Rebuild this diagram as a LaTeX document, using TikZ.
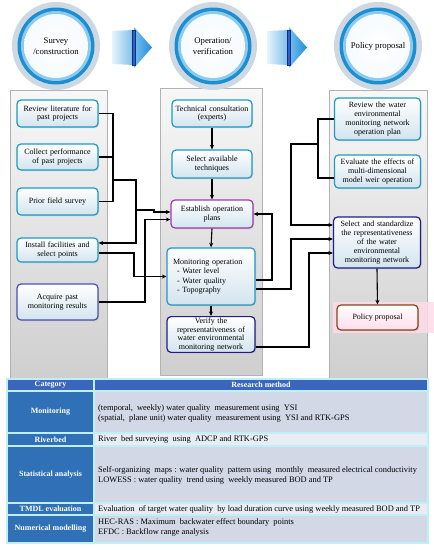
\documentclass[tikz,border=0pt]{standalone}
\usepackage{fontspec}
\setmainfont{Liberation Serif}
\usetikzlibrary{shadows,calc,arrows.meta}
\definecolor{boxcyan}{HTML}{1C9CC4}
\definecolor{boxfill}{HTML}{D3E4EE}
\definecolor{boxpurple}{HTML}{9B3BA8}
\definecolor{boxnavy}{HTML}{1E1E86}
\definecolor{boxindigo}{HTML}{4B4FB5}
\definecolor{boxbrown}{HTML}{8A4216}
\definecolor{halo}{HTML}{CDD8E3}
\definecolor{ringblue}{HTML}{1B8FD2}
\definecolor{ringlight}{HTML}{8CCBEE}
\definecolor{arrblue}{HTML}{1E8FDC}
\definecolor{arrlight}{HTML}{E6F4FC}
\definecolor{bardark}{HTML}{0D2F86}
\definecolor{barblue}{HTML}{2F62C4}
\definecolor{tabbg}{HTML}{BFEFF7}
\definecolor{hdr}{HTML}{3B66BE}
\definecolor{catblue}{HTML}{2F70B6}
\definecolor{celldark}{HTML}{D2D8E6}
\definecolor{celllight}{HTML}{E9ECF3}
\definecolor{glowpink}{HTML}{FFDCEA}
\tikzset{
  panel/.style={draw=gray!60, line width=0.4pt, top color=gray!6, bottom color=gray!38},
  box/.style={draw=boxcyan, line width=1.2pt, rounded corners=4pt, top color=white, bottom color=boxfill,
    align=center, font=\fontsize{8}{8.8}\selectfont, inner sep=1pt,
    drop shadow={opacity=0.25, shadow xshift=1pt, shadow yshift=-1pt}},
  lbox/.style={box, minimum width=81pt, text width=79pt},
  mbox/.style={box, minimum width=80pt, text width=78pt},
  rbox/.style={box, minimum width=85pt, text width=84pt},
  conn/.style={line width=1.1pt, black},
  arr/.style={conn, -{Stealth[length=4.5pt,width=4pt]}},
  ctext/.style={align=center, font=\fontsize{8.7}{10.5}\selectfont},
  hdrtxt/.style={font=\fontsize{8}{9}\selectfont\bfseries, text=white, inner sep=0pt},
  cattxt/.style={font=\fontsize{8}{9}\selectfont\bfseries, text=white, inner sep=0pt, align=center},
  celltxt/.style={font=\fontsize{8.4}{10}\selectfont, anchor=west, align=left, inner sep=0pt}
}
\begin{document}
\begin{tikzpicture}[x=1pt,y=-1pt]
\useasboundingbox (0,0) rectangle (434,550);

% panels
\draw[panel] (10,90) rectangle (107,378);
\draw[panel] (160,88) rectangle (262,375);
\draw[panel] (329,90) rectangle (427,378);

% circles
\foreach \cx in {56,213,378}{
  \fill[halo] (\cx,46) circle (44pt);
  \fill[ringblue] (\cx,46) circle (38.5pt);
  \fill[ringlight] (\cx,46) circle (35pt);
  \shade[inner color=white, outer color=white!92!ringlight] (\cx,46) circle (32pt);
}
\node[ctext] (C1) at (56,46) {Survey\\/construction};
\node[ctext] (C2) at (213,46) {Operation/\\verification};
\node[ctext] (C3) at (378,46) {Policy proposal};

% block arrows
\foreach \dx in {0,155}{
  \begin{scope}[xshift=\dx pt]
  \shade[left color=arrlight, right color=arrblue] (112,31) -- (134,30) -- (134,27) -- (152,47.5) -- (134,68) -- (134,65) -- (112,64) -- cycle;
  \filldraw[fill=barblue, draw=bardark, line width=0.6pt] (132.5,30.5) rectangle (135.5,65);
  \end{scope}
}

% pink glow behind policy proposal
\fill[glowpink, opacity=0.85] (333,302) rectangle (434,333);

% left column
\node[lbox, minimum height=27pt] (L1) at (57.5,113.5) {Review literature for\\past projects};
\node[lbox, minimum height=26pt] (L2) at (57.5,157) {Collect performance\\of past projects};
\node[lbox, minimum height=27pt] (L3) at (57.5,201.5) {Prior field survey};
\node[lbox, minimum height=24pt] (L4) at (57.5,250) {Install facilities and\\select points};
\node[lbox, draw=boxindigo, minimum height=36pt] (L5) at (57.5,302) {Acquire past\\monitoring results};

% middle column
\node[mbox, minimum height=27pt] (M1) at (212,113.5) {Technical consultation\\(experts)};
\node[mbox, minimum height=28pt] (M2) at (212,164) {Select available\\techniques};
\node[mbox, draw=boxpurple, minimum width=82pt, minimum height=28pt] (M3) at (212,214) {Establish operation\\plans};
\node[box, minimum width=88pt, text width=80pt, minimum height=57pt, align=left, font=\fontsize{8}{9.5}\selectfont] (M4) at (211,276.5)
  {\hspace*{2pt}Monitoring operation\\\hspace*{6pt}- Water level\\\hspace*{6pt}- Water quality\\\hspace*{6pt}- Topography};
\node[box, draw=boxnavy, minimum width=88pt, text width=86pt, minimum height=35pt] (M5) at (211,334.5)
  {Verify the\\representativeness of\\water environmental\\monitoring network};

% right column
\node[rbox, minimum height=42pt] (R1) at (377.5,119) {Review the water\\environmental\\monitoring network\\operation plan};
\node[rbox, minimum height=33pt] (R2) at (377.5,171.5) {Evaluate the effects of\\multi-dimensional\\model weir operation};
\node[rbox, draw=boxnavy, minimum width=87pt, minimum height=51pt] (R3) at (377,242.5)
  {Select and standardize\\the representativeness\\of the water\\environmental\\monitoring network};
\node[box, draw=boxbrown, top color=white, bottom color=glowpink, minimum width=81pt, minimum height=25pt] (R4) at (377.5,317.5) {Policy proposal};

% left connectors
\coordinate (b1) at (113,113.5);
\coordinate (b3) at (113,201.5);
\draw[conn] (L1.east) -- (b1) -- (b3) -- (L3.east);
\draw[conn] (L2.east) -- (L2.east -| b1);
\coordinate (b2) at (113,180);
\coordinate (c1) at (136,180);
\coordinate (c2) at (136,210);
\coordinate (c3) at (154,210);
\draw[arr] (b2) -- (c1) -- (c2) -- (c3) |- ($(M3.west)+(0,-2)$);
\draw[arr] (c2) |- ($(L4.east)+(0,-7)$);
\coordinate (d1) at (134,276.5);
\draw[arr] ($(L4.east)+(0,3)$) -| (d1) -- (M4.west);
\coordinate (e1) at (145,219.5);
\draw[arr] (L5.east) -| (e1) -- ($(M3.west)+(0,5.5)$);

% middle column arrows
\draw[arr] (M1.south) -- (M2.north);
\draw[arr] (M2.south) -- (M3.north);
\draw[arr] (M3.south) -- (M4.north);
\draw[arr] (M4.south) -- (M5.north);

% middle to right connectors
\coordinate (f1) at (272,214);
\draw[arr] ($(M4.east)+(0,3.5)$) -| (f1) -- (M3.east);
\coordinate (f2) at (291,239);
\draw[arr] ($(M4.east)+(0,12.5)$) -| (f2) -- ($(R3.west)+(0,-3.5)$);
\coordinate (f3) at (309,253);
\draw[arr] ($(M5.east)+(0,12.5)$) -| (f3) -- ($(R3.west)+(0,10.5)$);

% right connectors
\coordinate (g1) at (318,119);
\coordinate (g2) at (318,178);
\draw[conn] (R1.west) -- (g1) -- (g2) -- ($(R2.west)+(0,6.5)$);
\coordinate (g3) at (318,144);
\coordinate (g4) at (291,144);
\coordinate (g5) at (291,225);
\draw[arr] (g3) -- (g4) -- (g5) -- ($(R3.west)+(0,-17.5)$);
\draw[arr] (R3.south) -- (R4.north);

% table
\fill[tabbg] (6,377.5) rectangle (429,544);
\fill[hdr] (8,379.5) rectangle (93,390);
\fill[hdr] (95,379.5) rectangle (427,390);
\node[hdrtxt] (h1) at (50.5,385) {Category};
\node[hdrtxt] (h2) at (261,385) {Research method};

\fill[catblue] (8,392) rectangle (93,432);
\fill[celldark] (95,392) rectangle (427,432);
\fill[catblue] (8,434) rectangle (93,445);
\fill[celllight] (95,434) rectangle (427,445);
\fill[catblue] (8,447) rectangle (93,502);
\fill[celldark] (95,447) rectangle (427,502);
\fill[catblue] (8,504) rectangle (93,514);
\fill[celllight] (95,504) rectangle (427,514);
\fill[catblue] (8,516) rectangle (93,542);
\fill[celldark] (95,516) rectangle (427,542);

\node[cattxt] (k1) at (50.5,412) {Monitoring};
\node[cattxt] (k2) at (50.5,439.5) {Riverbed};
\node[cattxt] (k3) at (50.5,474.5) {Statistical analysis};
\node[cattxt] (k4) at (50.5,509) {TMDL evaluation};
\node[cattxt] (k5) at (50.5,529) {Numerical modelling};

\node[celltxt] (t1) at (98,413) {(temporal,\ \ weekly) water quality\ \ measurement using\ \ YSI\\(spatial,\ \ plane unit) water quality\ \ measurement using\ \ YSI and RTK-GPS};
\node[celltxt] (t2) at (98,439.5) {River\ \ bed surveying\ \ using\ \ ADCP and RTK-GPS};
\node[celltxt] (t3) at (98,475) {Self-organizing\ \ maps : water quality\ \ pattern using\ \ monthly\ \ measured electrical conductivity\\LOWESS : water quality\ \ trend using\ \ weekly measured BOD and TP};
\node[celltxt] (t4) at (98,509) {Evaluation\ \ of target water quality\ \ by load duration curve using weekly measured BOD and TP};
\node[celltxt] (t5) at (98,527.5) {HEC-RAS : Maximum\ \ backwater effect boundary\ \ points\\EFDC : Backflow range analysis};
\end{tikzpicture}
\end{document}
